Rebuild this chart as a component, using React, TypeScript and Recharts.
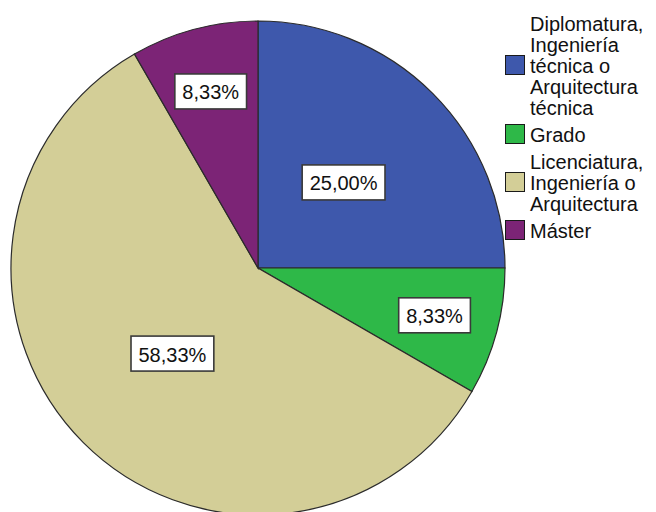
import React from 'react';
import { PieChart, Pie, Cell, Legend } from 'recharts';

// categories (full names) and the way the legend wraps them
const categories = [
  'Diplomatura, Ingeniería técnica o Arquitectura técnica',
  'Grado',
  'Licenciatura, Ingeniería o Arquitectura',
  'Máster',
];
const legendLines = [
  ['Diplomatura,', 'Ingeniería', 'técnica o', 'Arquitectura', 'técnica'],
  ['Grado'],
  ['Licenciatura,', 'Ingeniería o', 'Arquitectura'],
  ['Máster'],
];
// frequencies (12 cases)
const counts = [3, 1, 7, 1];
const colors = ['#3E58AC', '#2EB848', '#D3CE97', '#7C2476'];

const data = categories.map((name, i) => ({ name, value: counts[i] }));

const FONT = '"Liberation Sans", Arial, sans-serif';
const RAD = Math.PI / 180;

const charW: Record<string, number> = { ',': 0.278, '%': 0.889 };
const textWidth = (s: string, size: number) =>
  s.split('').reduce((acc, c) => acc + (charW[c] ?? 0.556), 0) * size;

const renderLabel = (props: any) => {
  const { cx, cy, midAngle, outerRadius, percent } = props;
  // small slices get their label further out, like SPSS does
  const r = outerRadius * (percent < 0.15 ? 0.74 : 0.49);
  const x = cx + r * Math.cos(-midAngle * RAD);
  const y = cy + r * Math.sin(-midAngle * RAD);
  const text = (percent * 100).toFixed(2).replace('.', ',') + '%';
  const w = textWidth(text, 20) + 15;
  const h = 35;
  return (
    <g>
      <rect
        x={x - w / 2}
        y={y - h / 2}
        width={w}
        height={h}
        fill="#fff"
        stroke="#3a3a3a"
        strokeWidth={1.6}
      />
      <text
        x={x}
        y={y + 1}
        textAnchor="middle"
        dominantBaseline="central"
        fontFamily={FONT}
        fontSize={20}
        fill="#111"
      >
        {text}
      </text>
    </g>
  );
};

const renderLegend = () => (
  <div style={{ fontFamily: FONT, fontSize: 20, lineHeight: '21px', color: '#111' }}>
    {legendLines.map((lines, i) => (
      <div key={i} style={{ display: 'flex', alignItems: 'center', marginBottom: 6 }}>
        <div
          style={{
            width: 18,
            height: 18,
            background: colors[i],
            border: '1px solid #1a1a1a',
            flexShrink: 0,
            position: 'relative',
            top: -2,
          }}
        />
        <div style={{ marginLeft: 5, whiteSpace: 'nowrap' }}>
          {lines.map((l, j) => (
            <div key={j}>{l}</div>
          ))}
        </div>
      </div>
    ))}
  </div>
);

const App = () => {
  return (
    <div style={{ position: 'absolute', left: 0, top: 0, width: 656, height: 512, background: '#fff' }}>
      <PieChart width={656} height={512} margin={{ top: 0, right: 0, bottom: 0, left: 0 }}>
        <Pie
          data={data}
          dataKey="value"
          nameKey="name"
          cx={258}
          cy={268}
          outerRadius={247}
          startAngle={90}
          endAngle={-270}
          stroke="#2b2b2b"
          strokeWidth={1.2}
          label={renderLabel}
          labelLine={false}
          isAnimationActive={false}
        >
          {data.map((d, i) => (
            <Cell key={d.name} fill={colors[i]} />
          ))}
        </Pie>
        <Legend
          layout="vertical"
          align="right"
          verticalAlign="top"
          content={renderLegend}
          wrapperStyle={{ left: 505, top: 14, width: 151, right: 'auto' }}
        />
      </PieChart>
    </div>
  );
};

export default App;
